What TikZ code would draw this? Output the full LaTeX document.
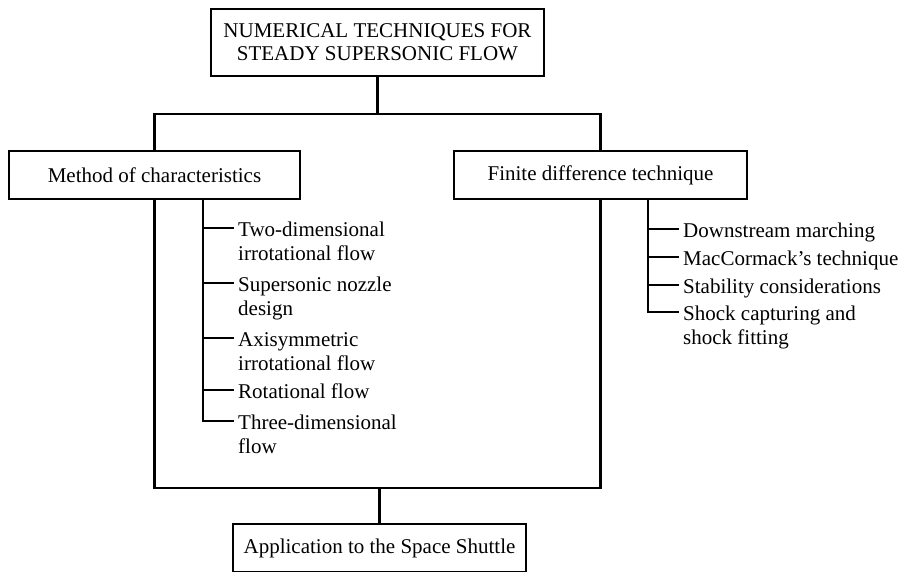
\documentclass[tikz,border=0pt]{standalone}
\usepackage{fontspec}
\setmainfont{Liberation Serif}
\usepackage{tikz}
\usetikzlibrary{calc}

\begin{document}
\begin{tikzpicture}[
    x=1pt,y=-1pt,
    font=\fontsize{21}{24}\selectfont,
    box/.style={draw, line width=1.6pt, minimum height=48pt, align=center, inner sep=0pt},
    item/.style={anchor=base west, align=left, inner sep=4pt},
    tree/.style={line width=2.2pt}
  ]
    % page frame
    \useasboundingbox (0,0) rectangle (902,571);

    % boxes
    \node[box, minimum width=333pt, minimum height=67pt, font=\fontsize{21}{23}\selectfont] (title) at (377.5,42.5) {NUMERICAL TECHNIQUES FOR\\STEADY SUPERSONIC FLOW};
    \node[box, minimum width=291pt] (moc) at (154.5,175) {Method of characteristics};
    \node[box, minimum width=293pt] (fdt) at (600.5,175) {Finite difference technique};
    \node[box, minimum width=293pt] (app) at (379.5,548) {Application to the Space Shuttle};

    % upper and lower bus
    \coordinate (topbus) at (title.south |- 0,114);
    \coordinate (botbus) at (app.north |- 0,488);
    \draw[tree] (title.south) -- (topbus);
    \draw[tree] (moc.north) |- (topbus) -| (fdt.north);
    \draw[tree] (moc.south) |- (botbus) -| (fdt.south);
    \draw[tree] (botbus) -- (app.north);

    % method of characteristics: topics (base = last line)
    \node[item] (m1) at (234,260) {Two-dimensional\\irrotational flow};
    \node[item] (m2) at (234,315) {Supersonic nozzle\\design};
    \node[item] (m3) at (234,370) {Axisymmetric\\irrotational flow};
    \node[item] (m4) at (234,398) {Rotational flow};
    \node[item] (m5) at (234,453) {Three-dimensional\\flow};
    \coordinate (mt1) at (203,228);
    \coordinate (mt2) at (203,283);
    \coordinate (mt3) at (203,338);
    \coordinate (mt4) at (203,390);
    \coordinate (mt5) at (203,421);
    \draw[tree] (mt1 |- moc.south) -- (mt5) -- (mt5 -| m5.west);
    \draw[tree] (mt1) -- (mt1 -| m1.west);
    \draw[tree] (mt2) -- (mt2 -| m2.west);
    \draw[tree] (mt3) -- (mt3 -| m3.west);
    \draw[tree] (mt4) -- (mt4 -| m4.west);

    % finite differences: topics
    \node[item] (f1) at (679,237) {Downstream marching};
    \node[item] (f2) at (679,265) {MacCormack's technique};
    \node[item] (f3) at (679,293) {Stability considerations};
    \node[item] (f4) at (679,344) {Shock capturing and\\shock fitting};
    \coordinate (ft1) at (648,229);
    \coordinate (ft2) at (648,257);
    \coordinate (ft3) at (648,285);
    \coordinate (ft4) at (648,312);
    \draw[tree] (ft1 |- fdt.south) -- (ft4) -- (ft4 -| f4.west);
    \draw[tree] (ft1) -- (ft1 -| f1.west);
    \draw[tree] (ft2) -- (ft2 -| f2.west);
    \draw[tree] (ft3) -- (ft3 -| f3.west);
  \end{tikzpicture}
\end{document}
